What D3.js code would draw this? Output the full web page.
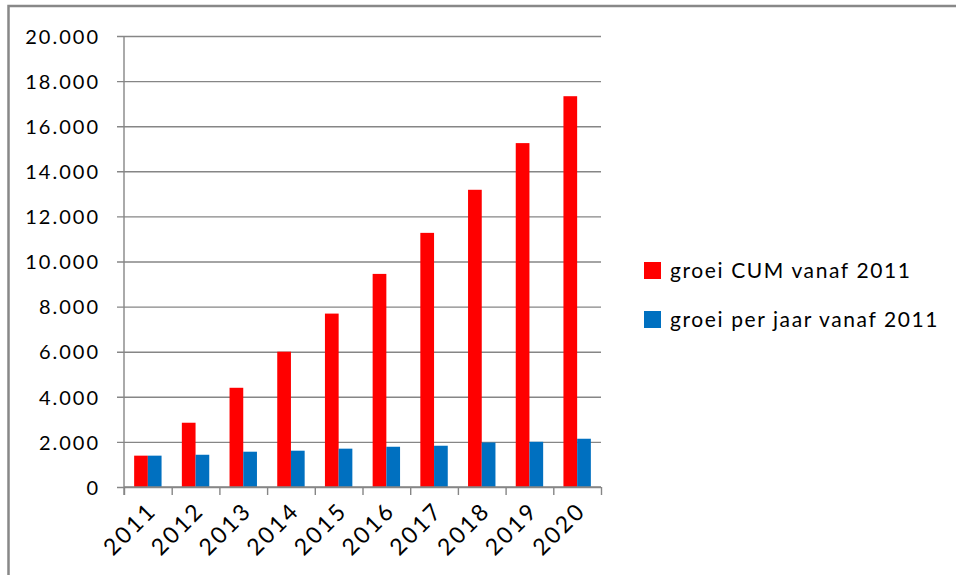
<!DOCTYPE html>
<html>
<head>
<meta charset="utf-8">
<script src="https://cdn.jsdelivr.net/npm/d3@7"></script>
<style>
  body { margin: 0; background: #fff; }
  text { font-family: Lato, "Open Sans", sans-serif; fill: #000; }
</style>
</head>
<body>
<script>
var width = 956;
var height = 575;

// data
var years = ["2011", "2012", "2013", "2014", "2015", "2016", "2017", "2018", "2019", "2020"];
var cumValues = [1390, 2850, 4400, 6000, 7690, 9450, 11270, 13180, 15250, 17330];
var yearValues = [1390, 1430, 1565, 1610, 1700, 1785, 1830, 1975, 2005, 2140];
var seriesNames = ["groei CUM vanaf 2011", "groei per jaar vanaf 2011"];
var seriesColors = ["#ff0000", "#0070c0"];
var yTicks = [0, 2000, 4000, 6000, 8000, 10000, 12000, 14000, 16000, 18000, 20000];

var plotLeft = 124, plotRight = 601, plotTop = 36, plotBottom = 487;

var svg = d3.select("body").append("svg")
    .attr("width", width)
    .attr("height", height);

// outer frame (only top and left show)
svg.append("rect")
    .attr("x", 8.5).attr("y", 6)
    .attr("width", 1000).attr("height", 1000)
    .style("fill", "none")
    .style("stroke", "#888")
    .style("stroke-width", 2.5);

var x = d3.scaleBand()
    .domain(years)
    .range([plotLeft, plotRight]);

var x1 = d3.scaleBand()
    .domain(seriesNames)
    .range([0, x.bandwidth()])
    .paddingOuter(0.74);

var y = d3.scaleLinear()
    .domain([0, 20000])
    .range([plotBottom, plotTop]);

var fmt = function (d) { return d3.format(",")(d).replace(/,/g, "."); };

// gridlines
var grid = svg.append("g")
    .attr("transform", "translate(117,0)")
    .call(d3.axisLeft(y).tickValues(yTicks).tickSize(-(plotRight - 117)).tickFormat(""));
grid.select(".domain").remove();
grid.selectAll("line").style("stroke", "#868686").style("stroke-width", 1.4);

// y labels
var yAxis = svg.append("g")
    .attr("transform", "translate(" + plotLeft + ",0)")
    .call(d3.axisLeft(y).tickValues(yTicks).tickSize(0).tickPadding(24).tickFormat(fmt));
yAxis.select(".domain").remove();
yAxis.selectAll("text")
    .style("font-size", "20px")
    .style("letter-spacing", "2px")
    .attr("dy", "0.36em");

svg.append("line")
    .attr("x1", plotLeft).attr("x2", plotLeft)
    .attr("y1", plotTop).attr("y2", plotBottom + 8)
    .style("stroke", "#868686").style("stroke-width", 1.4);

// bars
var groups = svg.selectAll(".year")
    .data(years)
    .enter().append("g")
    .attr("class", "year")
    .attr("transform", function (d) { return "translate(" + x(d) + ",0)"; });

groups.selectAll("rect")
    .data(function (d, i) { return [cumValues[i], yearValues[i]]; })
    .enter().append("rect")
    .attr("x", function (d, j) { return x1(seriesNames[j]); })
    .attr("width", x1.bandwidth())
    .attr("y", function (d) { return y(d); })
    .attr("height", function (d) { return y(0) - y(d); })
    .style("fill", function (d, j) { return seriesColors[j]; });

// x axis with ticks between categories
var xTick = d3.scaleLinear().domain([0, years.length]).range([plotLeft, plotRight]);
var xAxis = svg.append("g")
    .attr("transform", "translate(0," + plotBottom + ")")
    .call(d3.axisBottom(xTick).tickValues(d3.range(years.length + 1)).tickSize(8).tickFormat(""));
xAxis.select(".domain").attr("d", "M" + plotLeft + ",0H" + plotRight);
xAxis.selectAll("path, line").style("stroke", "#868686").style("stroke-width", 1.4);

svg.selectAll(".xlabel")
    .data(years)
    .enter().append("text")
    .attr("class", "xlabel")
    .attr("text-anchor", "end")
    .attr("transform", function (d) {
        return "translate(" + (x(d) + x.bandwidth() / 2 + 10) + "," + (plotBottom + 25) + ") rotate(-45)";
    })
    .style("font-size", "23px")
    .style("letter-spacing", "2.5px")
    .text(function (d) { return d; });

// legend
var legend = svg.selectAll(".legend")
    .data(seriesNames)
    .enter().append("g")
    .attr("class", "legend")
    .attr("transform", function (d, i) { return "translate(644," + (262 + i * 49) + ")"; });

legend.append("rect")
    .attr("width", 17).attr("height", 17)
    .style("fill", function (d, i) { return seriesColors[i]; });

legend.append("text")
    .attr("x", 26).attr("y", 8.5)
    .attr("dy", "0.36em")
    .style("font-size", "21px")
    .style("letter-spacing", "1.6px")
    .text(function (d) { return d; });
</script>
</body>
</html>
